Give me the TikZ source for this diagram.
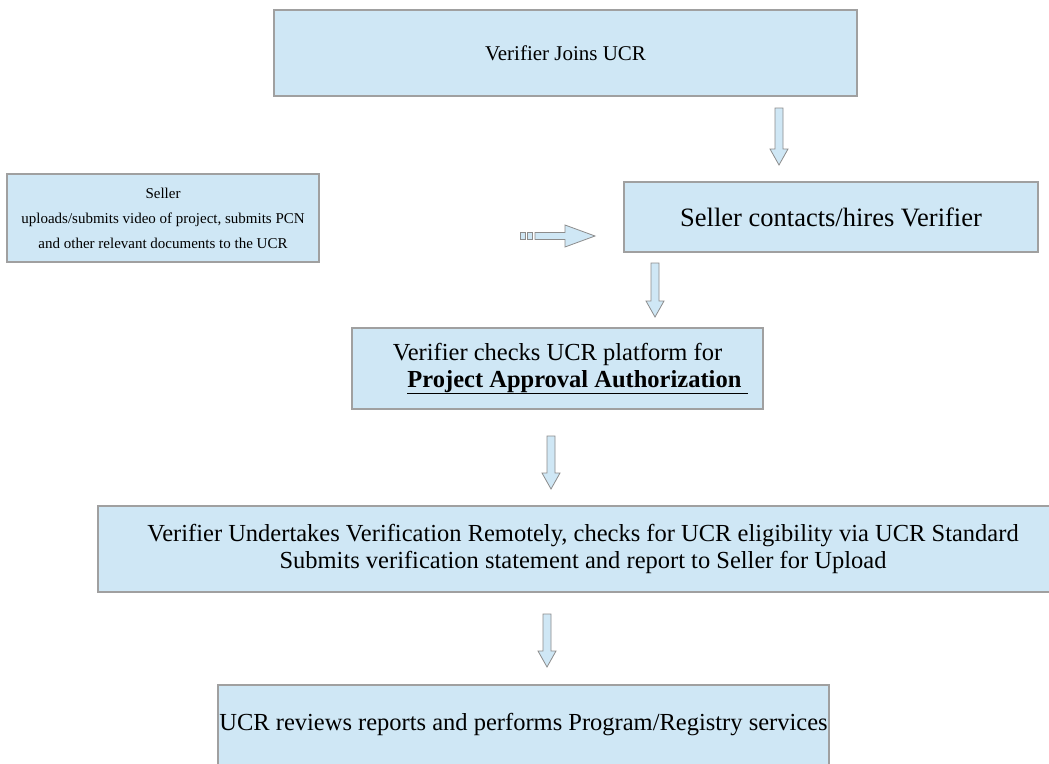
\documentclass[tikz,border=0pt]{standalone}
\usepackage{fontspec}
\setmainfont{Liberation Serif}
\newfontfamily\boxfont{Liberation Serif}
\definecolor{boxblue}{HTML}{CFE7F5}
\definecolor{boxgray}{HTML}{A0A0A0}
\definecolor{arrgray}{HTML}{8C8C8C}
\tikzset{
  flowbox/.style={draw=boxgray, fill=boxblue, line width=1.2pt, inner sep=0pt, align=center,
    font=\boxfont\fontsize{24.5}{27}\selectfont},
  blockarrow/.style={draw=arrgray, fill=boxblue, line width=0.8pt, line join=miter}
}
% vertical block arrow: x, y top, y tip
\newcommand\vblockarrow[3]{%
  \filldraw[blockarrow] ({#1-4},#2) -- ({#1+4},#2) -- ({#1+4},{#3-16}) -- ({#1+9},{#3-16})
    -- (#1,#3) -- ({#1-9},{#3-16}) -- ({#1-4},{#3-16}) -- cycle;}
\begin{document}
\begin{tikzpicture}[x=1pt,y=-1pt]
\useasboundingbox (0,0) rectangle (1049,763);
\clip (0,0) rectangle (1049,763);
\fill[white] (0,0) rectangle (1049,763);
% boxes
\node[flowbox, minimum width=583pt, minimum height=86pt, font=\boxfont\fontsize{21}{25}\selectfont] (join) at (565.5,53) {Verifier Joins UCR};
\node[flowbox, minimum width=312pt, minimum height=88pt, font=\boxfont\fontsize{15}{25}\selectfont] (seller) at (163,218)
  {Seller\\uploads/submits video of project, submits PCN\\and other relevant documents to the UCR};
\node[flowbox, minimum width=414pt, minimum height=70pt, font=\boxfont\fontsize{26.5}{29}\selectfont] (hire) at (831,217) {Seller contacts/hires Verifier};
\node[flowbox, minimum width=411pt, minimum height=81pt] (check) at (557.5,368.5)
  {Verifier checks UCR platform for\\\hspace*{40pt}\underline{\textbf{Project Approval Authorization\ }}};
\node[flowbox, minimum width=970pt, minimum height=86pt] (verify) at (583,549)
  {Verifier Undertakes Verification Remotely, checks for UCR eligibility via UCR Standard\\Submits verification statement and report to Seller for Upload};
\node[flowbox, minimum width=611pt, minimum height=80pt] (review) at (523.5,725)
  {UCR reviews reports and performs Program/Registry services};
% block arrows
\vblockarrow{779}{108}{165}
\vblockarrow{655}{263}{317}
\vblockarrow{551}{436}{489}
\vblockarrow{547}{614}{667}
% horizontal arrow with dotted tail
\filldraw[blockarrow] (535,232.5) -- (565,232.5) -- (565,225) -- (595,236) -- (565,247)
  -- (565,239.5) -- (535,239.5) -- cycle;
\filldraw[blockarrow] (520,232.5) rectangle (525,239.5);
\filldraw[blockarrow] (527.5,232.5) rectangle (532.5,239.5);
\end{tikzpicture}
\end{document}
